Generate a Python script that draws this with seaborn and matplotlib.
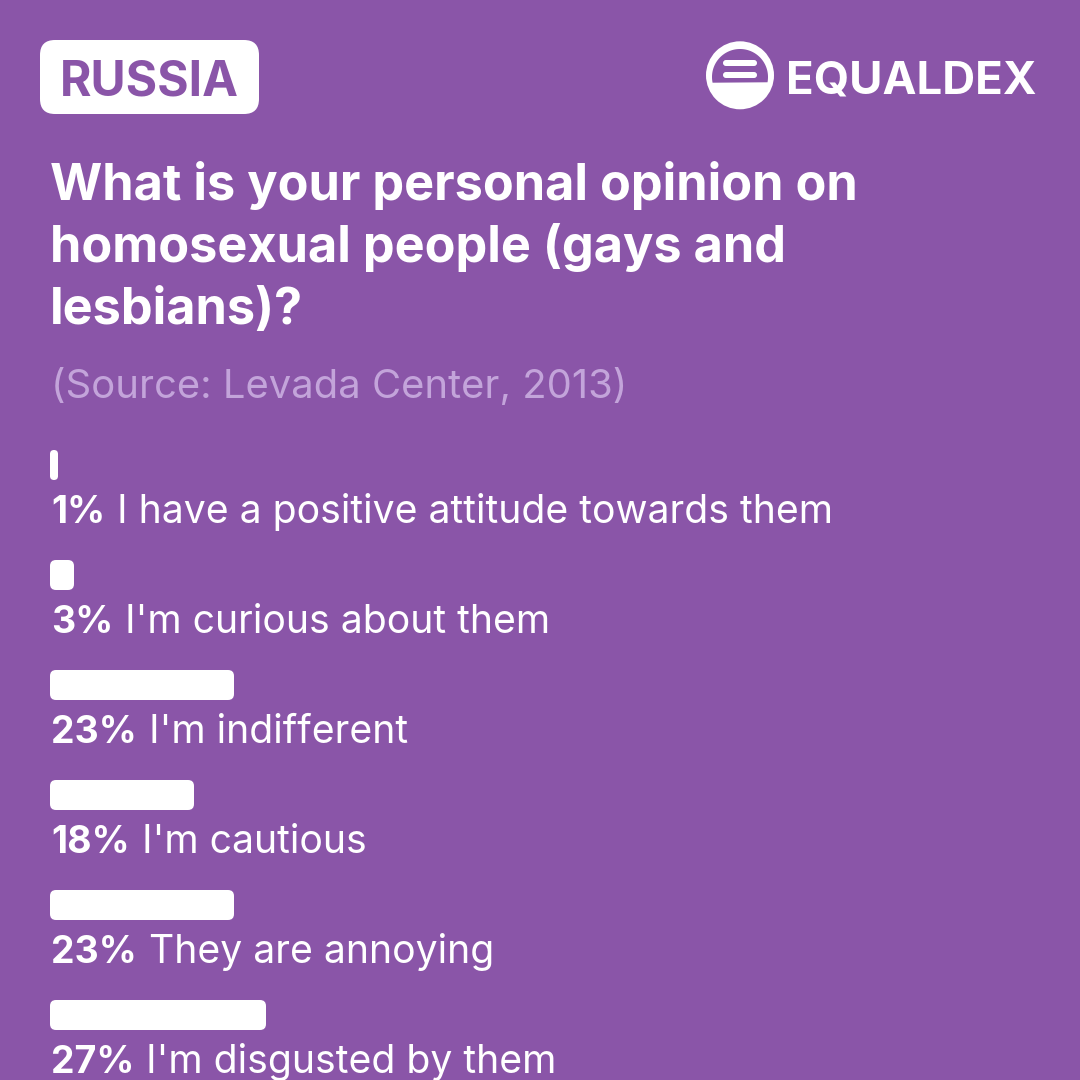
import numpy as np
import seaborn as sns
import matplotlib.pyplot as plt
from matplotlib.patches import FancyBboxPatch, Circle, Polygon

sns.set_style("white")
plt.rcParams['font.family'] = ['Inter', 'DejaVu Sans']

# data
country = "RUSSIA"
question = ["What is your personal opinion on",
            "homosexual people (gays and",
            "lesbians)?"]
source = "(Source: Levada Center, 2013)"
answers = ["I have a positive attitude towards them",
           "I'm curious about them",
           "I'm indifferent",
           "I'm cautious",
           "They are annoying",
           "I'm disgusted by them"]
pct = [1, 3, 23, 18, 23, 27]

bg = "#8a55a8"
PX = 0.72  # points per pixel at dpi 100

fig = plt.figure(figsize=(10.8, 10.8), dpi=100, facecolor=bg)

# header axes in pixel coords
ax0 = fig.add_axes([0, 0, 1, 1])
ax0.set_xlim(0, 1080)
ax0.set_ylim(1080, 0)
ax0.axis('off')
ax0.set_facecolor(bg)

# country badge
ax0.add_patch(FancyBboxPatch((40, 40), 219, 74, boxstyle="round,pad=0,rounding_size=15",
                             fc='white', ec='none'))
ax0.text(149.5, 95, country, fontsize=34.6, fontweight='bold', color=bg,
         ha='center', va='baseline')

# logo
ax0.add_patch(Circle((740, 75.3), 34, fc='white', ec='none'))
ang = np.linspace(0, 2 * np.pi, 200)
cx, cy, r = 740, 77, 28
px_ = cx + r * np.cos(ang)
py_ = cy + r * np.sin(ang)
pts = [(x, y) for x, y in zip(px_, py_) if y <= 83]
pts.sort(key=lambda p: np.arctan2(p[1] - cy, p[0] - cx))
ax0.add_patch(Polygon(pts, closed=True, fc=bg, ec='none'))
for y0 in (60, 72):
    ax0.add_patch(FancyBboxPatch((723, y0), 34, 6, boxstyle="round,pad=0,rounding_size=3",
                                 fc='white', ec='none'))
ax0.text(786, 93, "EQUALDEX", fontsize=32.8, fontweight='bold', color='white',
         ha='left', va='baseline')

# question + source
for k, line in enumerate(question):
    ax0.text(50, 200 + 62 * k, line, fontsize=36.3, fontweight='bold', color='white',
             ha='left', va='baseline')
ax0.text(51, 398, source, fontsize=28.8, color='#c3a4da', ha='left', va='baseline')

# bars
ax = fig.add_axes([50 / 1080, 0, 800 / 1080, 670 / 1080])
sns.barplot(x=pct, y=answers, orient='h', color='white', saturation=1,
            width=30 / 110, ax=ax)
ax.set_xlim(0, 100)
ax.set_ylim((1080 - 465) / 110, -0.5)
ax.axis('off')

asp = (1 / 110) / (1 / 8)
for bar in list(ax.patches):
    x, y = bar.get_x(), bar.get_y()
    w, h = bar.get_width(), bar.get_height()
    rs = min(0.75, w / 2)
    ax.add_patch(FancyBboxPatch((x, y), w, h, boxstyle=f"round,pad=0,rounding_size={rs}",
                                mutation_aspect=asp, fc='white', ec='none'))
    bar.remove()

for i, (p, lab) in enumerate(zip(pct, answers)):
    b = ax.annotate(f"{p}%", xy=(0, i), xycoords='data', xytext=(1 * PX, -58 * PX),
                    textcoords='offset points', fontsize=27, fontweight='bold',
                    color='white', ha='left', va='baseline', annotation_clip=False)
    ax.annotate(lab, xy=(1, 0), xycoords=b, xytext=(12 * PX, 0),
                textcoords='offset points', fontsize=28.2, color='white',
                ha='left', va='bottom', annotation_clip=False)

fig.savefig("out.png", dpi=100, facecolor=bg)
